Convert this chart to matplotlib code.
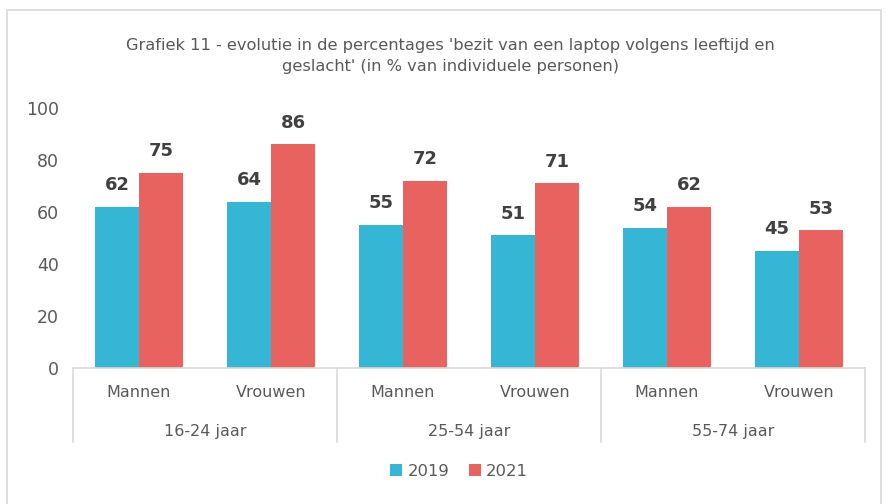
import numpy as np
import matplotlib.pyplot as plt
from matplotlib.patches import Rectangle
from matplotlib.transforms import blended_transform_factory

groups = ["16-24 jaar", "25-54 jaar", "55-74 jaar"]
genders = ["Mannen", "Vrouwen"]
years = ["2019", "2021"]
vals_2019 = [62, 64, 55, 51, 54, 45]
vals_2021 = [75, 86, 72, 71, 62, 53]
yticks = [0, 20, 40, 60, 80, 100]

BLUE = "#35B6D4"
RED = "#E8625F"
GRID = "#D9D9D9"
TXT = "#595959"

plt.rcParams['font.family'] = ['DejaVu Sans']

fig = plt.figure(figsize=(8.86, 5.04), dpi=100)
fig.patches.append(Rectangle((7 / 886, -0.01), 874 / 886, 1 - 10 / 504 + 0.01,
                             transform=fig.transFigure, fill=False,
                             edgecolor=GRID, linewidth=1.2))

ax = fig.add_axes([73 / 886, 1 - 368 / 504, 792 / 886, 260 / 504])

n = len(vals_2019)
x = np.arange(n)
w = 1 / 3
b1 = ax.bar(x - w / 2, vals_2019, w, color=BLUE, label=years[0])
b2 = ax.bar(x + w / 2, vals_2021, w, color=RED, label=years[1])
for bars in (b1, b2):
    ax.bar_label(bars, padding=9, fontsize=13, fontweight='bold', color='#404040')

ax.set_xlim(-0.5, n - 0.5)
ax.set_ylim(0, 100)
ax.set_yticks(yticks)
ax.tick_params(axis='y', length=0, pad=10, labelsize=12.5, labelcolor=TXT)
ax.set_xticks([])
for s in ['top', 'right', 'left']:
    ax.spines[s].set_visible(False)
ax.spines['bottom'].set_color(GRID)
ax.spines['bottom'].set_linewidth(1.2)

tr = blended_transform_factory(ax.transData, ax.transAxes)
for i in range(n):
    ax.text(i, -0.095, genders[i % 2], transform=tr, ha='center', va='center',
            fontsize=11.5, color=TXT)
for g, name in enumerate(groups):
    ax.text(2 * g + 0.5, -0.245, name, transform=tr, ha='center', va='center',
            fontsize=11.5, color=TXT)
for bx in np.arange(-0.5, n, 2):
    ax.plot([bx, bx], [0, -0.285], transform=tr, color=GRID, linewidth=1.2,
            clip_on=False)

fig.text(0.508, 1 - 56 / 504,
         "Grafiek 11 - evolutie in de percentages 'bezit van een laptop volgens leeftijd en\n"
         "geslacht' (in % van individuele personen)",
         ha='center', va='center', fontsize=11.7, color=TXT, linespacing=1.55)

fig.legend(handles=[b1, b2], loc='center', bbox_to_anchor=(0.518, 1 - 471 / 504),
           ncol=2, frameon=False, fontsize=11.8, labelcolor=TXT,
           handlelength=0.75, handleheight=0.75, handletextpad=0.3, columnspacing=1.2)

fig.savefig("out.png", dpi=100)
